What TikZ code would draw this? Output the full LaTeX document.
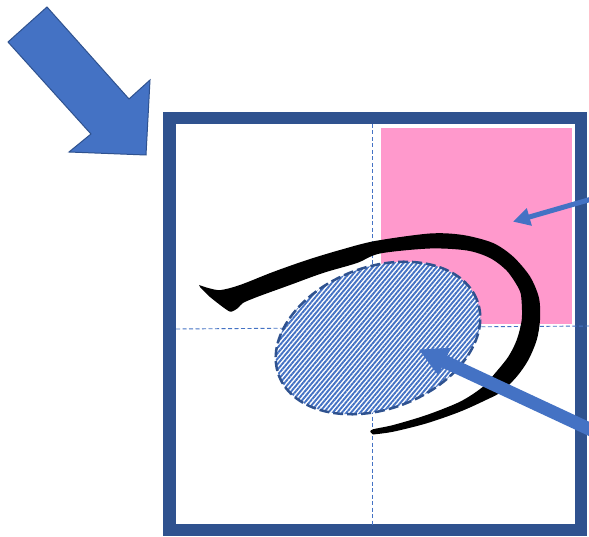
\documentclass[tikz,border=0pt]{standalone}
\usetikzlibrary{arrows.meta,shapes.geometric,patterns.meta}
\definecolor{accent}{HTML}{4472C4}
\definecolor{darkblue}{HTML}{2F528F}
\definecolor{pinkfill}{HTML}{FF99CC}
\begin{document}
\begin{tikzpicture}[x=1pt,y=-1pt,
  guide/.style={draw=accent, line width=0.9pt, dash pattern=on 4pt off 2.5pt},
  framebox/.style={draw=darkblue, line width=12.5pt, fill=white, inner sep=0pt, outer sep=0pt},
  blockarrow/.style={fill=accent, draw=darkblue, line width=1pt, line join=miter},
  pointer/.style={draw=accent, line width=#1}
]
\useasboundingbox (0,0) rectangle (589,537);
\fill[white] (0,0) rectangle (589,537);

% big block arrow
\path[blockarrow] (8,42) -- (47,7) -- (129,99) -- (150,80) -- (146,155) -- (69,152) -- (91,134) -- cycle;

% frame
\node[framebox, minimum width=411.5pt, minimum height=412pt] (frame) at (375.25,324) {};

% pink square
\node[fill=pinkfill, minimum width=191pt, minimum height=196pt, inner sep=0pt] (pink) at (476.5,226) {};

% guide lines
\coordinate (vtop) at (372.7,124);
\coordinate (vbot) at (372.7,526);
\coordinate (hl) at (176,329);
\coordinate (hr) at (590,326);
\draw[guide] (vtop) -- (vbot);
\draw[guide] (hl) -- (hr);

% brush stroke
\fill[black] plot[smooth, tension=0.5] coordinates {(199,285) (210,288.5) (221,290) (240,285) (273,272) (307,260) (340,250) (375,241) (430,233.5) (463,235) (493,243) (513,256.5) (530,276.5) (539,298) (540,320) (536.7,340) (528.3,360) (516.7,376.7) (501,392) (487,399.5) (460,411.7) (426.7,423.3) (393.3,431.7) (373,434.5)}
  -- plot[smooth, tension=0.5] coordinates {(370.3,432) (373,429.3) (393.3,425) (426.7,415) (460,401.7) (482,387.5) (495,373.3) (508.3,356.7) (516.7,340) (521.7,320) (521.5,300) (519,289) (507,271) (490,258) (467,250.5) (430,248.5) (380,253.5) (357,263) (323,273) (290,285) (257,297) (243,303) (238,308) (232,311.5) (227,310) (210,297) (200,287)}
  -- cycle;

% hatched ellipse
\node[ellipse, draw=darkblue, line width=2.5pt, dash pattern=on 10pt off 4pt,
  preaction={fill=white},
  pattern={Lines[angle=50,distance=3.5pt,line width=1.9pt]}, pattern color=accent,
  minimum width=212pt, minimum height=142pt, inner sep=0pt, rotate=20.7] (blob) at (378,338) {};

% pointer arrows
\coordinate (s1) at (597,197.5);
\coordinate (t1) at (513,221.7);
\draw[pointer=5pt, -{Triangle[length=17pt,width=17pt]}] (s1) -- (t1);
\coordinate (s2) at (600,434);
\coordinate (t2) at (418.3,349.3);
\draw[pointer=13pt, -{Triangle[length=29pt,width=28pt]}] (s2) -- (t2);
\end{tikzpicture}
\end{document}
